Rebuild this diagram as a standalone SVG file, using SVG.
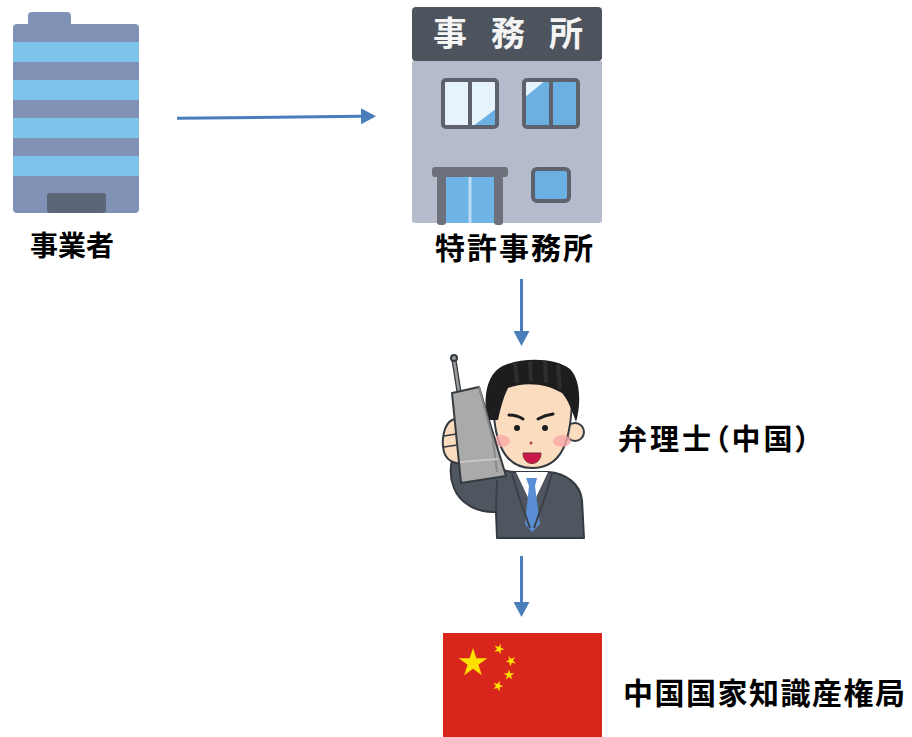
<svg xmlns="http://www.w3.org/2000/svg" width="912" height="737" viewBox="0 0 912 737">
  <style>
    .lbl { font-family: "Noto Sans CJK JP", "Noto Sans", sans-serif; font-weight: 700; fill: #000; }
    .conn { stroke: #4a7ebb; stroke-width: 3; fill: none; }
    .frame { stroke: #5d626c; stroke-width: 4; }
    .ink { stroke: #333a40; stroke-width: 2; stroke-linejoin: round; }
  </style>
  <defs>
    <marker id="arrow" markerUnits="userSpaceOnUse" markerWidth="16" markerHeight="16" refX="0" refY="8" orient="auto">
      <path d="M0,0 L15,8 L0,16 Z" fill="#4a7ebb"/>
    </marker>
    <polygon id="star" points="0,-1 0.2245,-0.309 0.951,-0.309 0.363,0.118 0.588,0.809 0,0.382 -0.588,0.809 -0.363,0.118 -0.951,-0.309 -0.2245,-0.309"/>
  </defs>

  <rect width="912" height="737" fill="#fff"/>

  <!-- business: striped tower -->
  <g id="node-business">
    <rect x="28" y="12" width="43" height="16" rx="4" fill="#8093b6"/>
    <rect x="13" y="24" width="126" height="189" rx="4" fill="#8093b6"/>
    <rect x="13" y="42" width="126" height="20" fill="#7dc3ea"/>
    <rect x="13" y="80" width="126" height="20" fill="#7dc3ea"/>
    <rect x="13" y="118" width="126" height="20" fill="#7dc3ea"/>
    <rect x="13" y="156" width="126" height="20" fill="#7dc3ea"/>
    <rect x="47" y="193" width="59" height="20" rx="3" fill="#5c6679"/>
    <text class="lbl" x="30" y="256" font-size="28">事業者</text>
  </g>

  <!-- patent office building -->
  <g id="node-office">
    <rect x="412" y="60" width="190" height="163" rx="3" fill="#b6bbcc"/>
    <rect x="412" y="7" width="190" height="54" rx="4" fill="#4e545e"/>
    <text x="433" y="46" font-size="34" letter-spacing="24" font-family="Noto Sans CJK JP, sans-serif" font-weight="700" fill="#f4f4f4">事務所</text>
    <!-- upper left window -->
    <rect x="443" y="80" width="54" height="47" fill="#e6f3fb"/>
    <polygon points="497,108 497,127 472,127" fill="#6ab0e3"/>
    <rect x="443" y="80" width="54" height="47" rx="3" fill="none" class="frame"/>
    <line x1="470" y1="80" x2="470" y2="127" class="frame"/>
    <!-- upper right window -->
    <rect x="524" y="80" width="54" height="47" fill="#6ab0e3"/>
    <polygon points="524,80 546,80 524,98" fill="#e6f3fb"/>
    <rect x="524" y="80" width="54" height="47" rx="3" fill="none" class="frame"/>
    <line x1="551" y1="80" x2="551" y2="127" class="frame"/>
    <!-- entrance -->
    <rect x="446" y="176" width="49" height="47" fill="#6fb4e6"/>
    <line x1="470" y1="177" x2="470" y2="223" stroke="#b9dcf4" stroke-width="3"/>
    <rect x="437" y="175" width="9" height="50" rx="3" fill="#6c717b"/>
    <rect x="494" y="175" width="9" height="50" rx="3" fill="#6c717b"/>
    <rect x="432" y="167" width="76" height="10" rx="3" fill="#6c717b"/>
    <!-- small window -->
    <rect x="533" y="169" width="36" height="32" rx="4" fill="#6ab0e3" class="frame"/>
    <text class="lbl" x="435" y="259" font-size="30" letter-spacing="2">特許事務所</text>
  </g>

  <!-- patent attorney on the phone -->
  <g id="node-attorney">
    <!-- suit with raised sleeve -->
    <path d="M497,538 L496,512 C478,513 460,504 454,488 C450,478 450,468 452,460 L482,455 C492,466 502,472 515,472 L548,472 C566,473 580,484 582,500 L584,538 Z" fill="#50565f" class="ink"/>
    <path d="M496,512 L497,480" fill="none" stroke="#3b4048" stroke-width="2"/>
    <!-- shirt -->
    <path d="M516,472 L548,472 L532,506 Z" fill="#ffffff"/>
    <!-- tie -->
    <path d="M526,478 L537,478 L535,486 L540,524 L532,532 L525,524 L529,486 Z" fill="#5a8fd5"/>
    <!-- lapels -->
    <path d="M512,474 L520,500 L530,528" fill="none" stroke="#3b4048" stroke-width="2"/>
    <path d="M552,474 L544,500 L534,528" fill="none" stroke="#3b4048" stroke-width="2"/>
    <!-- ear -->
    <circle cx="575" cy="432" r="9" fill="#fcdcbf" class="ink"/>
    <!-- face -->
    <path d="M494,378 L572,378 C574,446 560,468 532,468 C503,468 490,440 494,378 Z" fill="#fcdcbf" class="ink"/>
    <!-- hair -->
    <path d="M487,420 C483,395 487,372 505,365 C525,357 556,358 570,369 C581,380 581,405 576,422 C572,410 568,400 562,393 C548,384 525,381 508,388 C503,398 500,410 498,420 Z" fill="#1d1d1f"/>
    <path d="M515,363 L517,383 M530,361 L531,381 M545,361 L546,383 M558,365 L560,389" stroke="#3a3a3e" stroke-width="4" opacity="0.6"/>
    <!-- cheeks -->
    <ellipse cx="501" cy="441" rx="9" ry="6" fill="#f7a9a5" opacity="0.8"/>
    <ellipse cx="562" cy="441" rx="9" ry="6" fill="#f7a9a5" opacity="0.8"/>
    <!-- brows and eyes -->
    <path d="M509,415 Q517,415 523,419" stroke="#1d1d1f" stroke-width="3" stroke-linecap="round" fill="none"/>
    <path d="M538,419 Q545,415 553,414" stroke="#1d1d1f" stroke-width="3" stroke-linecap="round" fill="none"/>
    <circle cx="517" cy="428" r="3" fill="#1d1d1f"/>
    <circle cx="545" cy="428" r="3" fill="#1d1d1f"/>
    <circle cx="531" cy="443" r="1.5" fill="#b04040"/>
    <!-- mouth -->
    <path d="M523,453 L541,453 C541,467 523,467 523,453 Z" fill="#c8174a" stroke="#7a2d30" stroke-width="1"/>
    <!-- hand -->
    <path d="M452,420 C444,424 441,440 444,452 C447,462 458,466 470,462 L474,430 C468,420 460,417 452,420 Z" fill="#fcdcbf" class="ink"/>
    <path d="M444,436 L456,434 M444,447 L457,445" stroke="#333a40" stroke-width="1.5"/>
    <!-- antenna -->
    <line x1="454" y1="360" x2="459" y2="392" stroke="#333a40" stroke-width="5" stroke-linecap="round"/>
    <line x1="454" y1="360" x2="459" y2="392" stroke="#9c9c9c" stroke-width="2.5" stroke-linecap="round"/>
    <circle cx="454" cy="358" r="3" fill="#9c9c9c" class="ink"/>
    <!-- handset -->
    <path d="M452,393 L479,387 L506,476 L461,483 Z" fill="#aaaaaa" class="ink"/>
    <path d="M479,387 L493,440 L497,472" fill="none" stroke="#8a8a8a" stroke-width="2"/>
    <line x1="460" y1="462" x2="498" y2="459" stroke="#c8c8c8" stroke-width="2"/>
    <text class="lbl" x="618" y="450" font-size="29" letter-spacing="3" style="font-feature-settings: 'palt'">弁理士（中国）</text>
  </g>

  <!-- national IP administration -->
  <g id="node-cnipa">
    <rect x="443" y="633" width="159" height="110" fill="#d9261c"/>
    <g fill="#fde000">
      <use href="#star" transform="translate(473,663) scale(15)"/>
      <use href="#star" transform="translate(499,649) rotate(20) scale(5.5)"/>
      <use href="#star" transform="translate(511,661) rotate(45) scale(5.5)"/>
      <use href="#star" transform="translate(509,675) rotate(0) scale(5.5)"/>
      <use href="#star" transform="translate(498,686) rotate(20) scale(5.5)"/>
    </g>
    <text class="lbl" x="623" y="704" font-size="30" letter-spacing="1.5">中国国家知識産権局</text>
  </g>

  <!-- connectors -->
  <g id="connectors">
    <line class="conn" x1="177" y1="118.3" x2="361" y2="116.3" marker-end="url(#arrow)"/>
    <line class="conn" x1="521.5" y1="279" x2="521.5" y2="331" marker-end="url(#arrow)"/>
    <line class="conn" x1="521.5" y1="556" x2="521.5" y2="602" marker-end="url(#arrow)"/>
  </g>
</svg>
